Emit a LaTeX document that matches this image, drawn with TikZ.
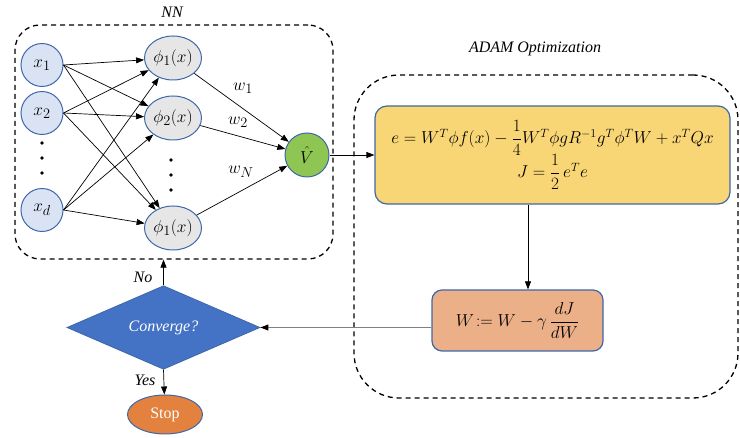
\documentclass[tikz,border=0pt]{standalone}
\usepackage{amsmath}
\usepackage{fontspec}
\setmainfont{Liberation Serif}
\newfontfamily\tnr{Liberation Serif}
\usetikzlibrary{shapes.geometric,arrows.meta}
\definecolor{bord}{HTML}{3F67A8}
\definecolor{inpfill}{HTML}{DAE3F3}
\definecolor{hidfill}{HTML}{E6E6E6}
\definecolor{vfill}{HTML}{8FC653}
\definecolor{yel}{HTML}{F9D675}
\definecolor{ora}{HTML}{EBB088}
\definecolor{diafill}{HTML}{4472C4}
\definecolor{stopfill}{HTML}{E3813F}
\begin{document}
\begin{tikzpicture}[x=1pt,y=-1pt,
  font=\tnr\fontsize{16}{19}\selectfont,
  dashbox/.style={draw, line width=1.3pt, dash pattern=on 5pt off 4pt, rounded corners=25pt, inner sep=0pt},
  ttl/.style={font=\tnr\fontsize{16}{19}\selectfont\itshape},
  nodemath/.style={font=\fontsize{19}{22}\selectfont},
  inp/.style={nodemath, ellipse, draw=bord, line width=1pt, fill=inpfill, minimum width=42pt, minimum height=43pt, inner sep=0pt},
  hid/.style={nodemath, ellipse, draw=bord, line width=1pt, fill=hidfill, minimum width=57pt, minimum height=44pt, inner sep=0pt},
  outn/.style={nodemath, circle, draw=bord, line width=1pt, fill=vfill, minimum size=44pt, inner sep=0pt},
  arr/.style={-{Triangle[length=8pt,width=6pt]}, line width=0.7pt},
  grayarr/.style={-{Triangle[length=8pt,width=6pt,color=black]}, line width=0.9pt, draw=gray},
  wlab/.style={nodemath, inner sep=1pt},
  eqbox/.style={draw=bord, line width=1.2pt, fill=yel, rounded corners=12pt, minimum width=355pt, minimum height=98pt, align=center, font=\fontsize{16.5}{20}\selectfont},
  updbox/.style={draw=bord, line width=1.2pt, fill=ora, rounded corners=10pt, minimum width=171pt, minimum height=61pt, font=\fontsize{17}{20}\selectfont},
  dia/.style={diamond, draw=bord, line width=0.8pt, fill=diafill, minimum width=193pt, minimum height=77pt, inner sep=0pt, text=white, font=\tnr\fontsize{16}{19}\selectfont\itshape},
  stopn/.style={ellipse, draw=bord, line width=1pt, fill=stopfill, minimum width=75pt, minimum height=39pt, inner sep=0pt, text=white, font=\tnr\fontsize{16}{19}\selectfont}
]
\useasboundingbox (0,0) rectangle (740,438);

% dashed group boxes
\node[dashbox, minimum width=318pt, minimum height=234pt] (nn) at (174,142) {};
\node[ttl] (nnt) at (172,12) {NN};
\node[dashbox, rounded corners=45pt, minimum width=384pt, minimum height=323pt] (adam) at (546,236.5) {};
\node[ttl] (adamt) at (535,49) {ADAM Optimization};

% input nodes
\node[inp] (x1) at (42,65) {$x_1$};
\node[inp] (x2) at (42,113) {$x_2$};
\node[inp] (xd) at (42,210) {$x_d$};
\foreach \y in {143,158,173} \fill (42,\y) circle (1.8);

% hidden nodes
\node[hid] (h1) at (173,58) {$\phi_1(x)$};
\node[hid] (h2) at (173,118) {$\phi_2(x)$};
\node[hid] (hN) at (173,228) {$\phi_1(x)$};
\foreach \y in {160,175,190} \fill (171,\y) circle (1.8);

% output node
\node[outn] (v) at (307,155) {$\hat{V}$};

\foreach \s in {x1,x2,xd}
  \foreach \t in {h1,h2,hN}
    \draw[arr] (\s.east) -- (\t);

\draw[arr] (h1) -- (v);
\draw[arr] (h2) -- (v);
\draw[arr] (hN) -- (v);
\node[wlab] (w1) at (243,88) {$w_1$};
\node[wlab] (w2) at (238,122) {$w_2$};
\node[wlab] (wN) at (241,172) {$w_N$};

% equations
\node[eqbox] (eq) at (552.5,155) {$e = W^T\phi f(x) - \dfrac{1}{4}W^T\phi g R^{-1} g^T\phi^T W + x^T Q x$\\[-2pt] $J = \dfrac{1}{2}\, e^T e$};
\draw[arr] (v) -- (eq);

\node[updbox] (upd) at (517.5,320.5) {$W\!:= W - \gamma\,\dfrac{dJ}{dW}$};
\draw[arr] ([xshift=10.5pt]upd.north |- eq.south) -- ([xshift=10.5pt]upd.north);

% decision
\node[dia] (conv) at (163.5,327.5) {Converge?};
\draw[grayarr] (conv.east -| upd.west) -- (conv.east);
\draw[arr] (conv.north) -- (conv.north |- nn.south);
\node[ttl] (nolab) at (143,277) {No};
\node[stopn] (stop) at (165,414.5) {Stop};
\draw[arr] (conv.south) -- (stop);
\node[ttl] (yeslab) at (145,380) {Yes};
\end{tikzpicture}
\end{document}
